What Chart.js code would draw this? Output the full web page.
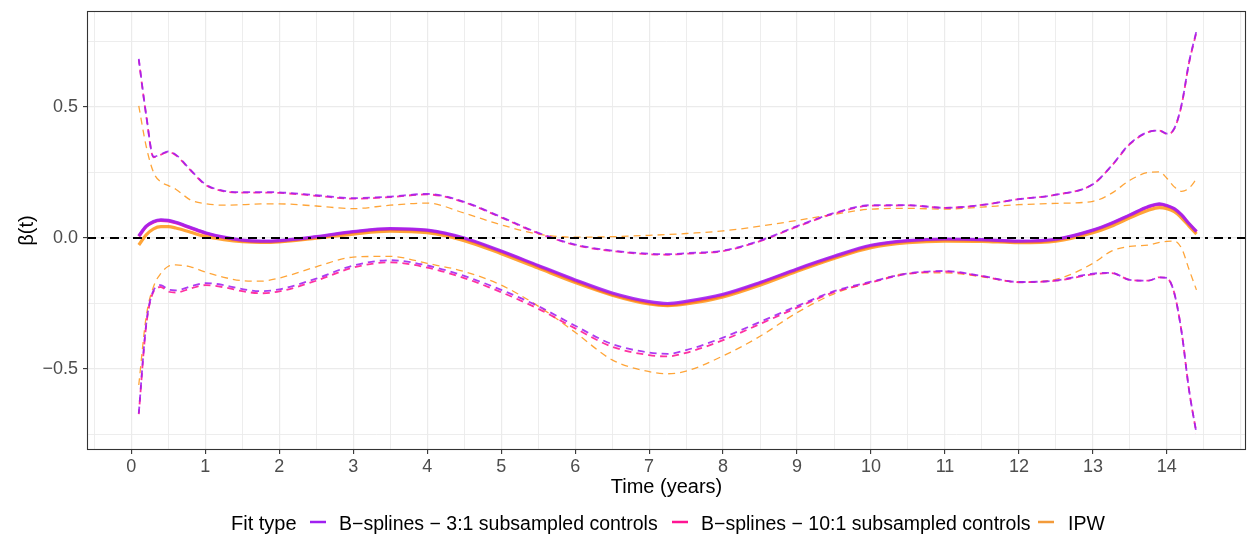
<!DOCTYPE html>
<html>
<head>
<meta charset="utf-8">
<script src="https://cdn.jsdelivr.net/npm/chart.js@4/dist/chart.umd.min.js"></script>
<style>
  html, body { margin: 0; padding: 0; background: #ffffff; }
  canvas { display: block; }
</style>
</head>
<body>
<canvas id="beta" width="1249" height="539"></canvas>
<script>
// Follow-up time (years) at which each curve is evaluated
const time = [0.1, 0.2, 0.3, 0.4, 0.5, 0.6, 0.8, 1.0, 1.25, 1.5, 1.75, 2.0, 2.5, 3.0, 3.5, 4.0,
  4.5, 5.0, 5.5, 6.0, 6.5, 7.0, 7.25, 7.5, 8.0, 8.5, 9.0, 9.5, 10.0, 10.5, 11.0, 11.5, 12.0,
  12.5, 13.0, 13.25, 13.5, 13.75, 13.9, 14.0, 14.1, 14.2, 14.3, 14.4];

// B-splines, 3:1 subsampled controls: estimate and pointwise bounds
const est3 = [0.008, 0.045, 0.063, 0.069, 0.067, 0.06, 0.04, 0.02, 0.003, -0.008, -0.012, -0.01, 0.005, 0.024, 0.036, 0.03,
  0.0, -0.05, -0.105, -0.16, -0.21, -0.243, -0.25, -0.242, -0.215, -0.17, -0.118, -0.07, -0.028, -0.01, -0.004, -0.006, -0.012,
  -0.005, 0.03, 0.056, 0.088, 0.12, 0.13, 0.124, 0.112, 0.088, 0.055, 0.025];
const hi3 = [0.683, 0.47, 0.31, 0.32, 0.33, 0.318, 0.26, 0.205, 0.18, 0.175, 0.175, 0.174, 0.163, 0.152, 0.158, 0.168,
  0.138, 0.08, 0.02, -0.025, -0.048, -0.06, -0.062, -0.058, -0.048, -0.01, 0.045, 0.095, 0.125, 0.125, 0.115, 0.126, 0.148,
  0.165, 0.205, 0.275, 0.36, 0.405, 0.41, 0.398, 0.418, 0.51, 0.67, 0.79];
const lo3 = [-0.669, -0.33, -0.2, -0.18, -0.197, -0.2, -0.185, -0.172, -0.18, -0.195, -0.203, -0.196, -0.155, -0.105, -0.085, -0.105,
  -0.145, -0.198, -0.26, -0.335, -0.405, -0.437, -0.442, -0.428, -0.38, -0.32, -0.26, -0.203, -0.167, -0.135, -0.126, -0.145, -0.168,
  -0.162, -0.136, -0.133, -0.16, -0.163, -0.15, -0.152, -0.21, -0.36, -0.58, -0.745];

// B-splines, 10:1 subsampled controls
const est10 = [0.006, 0.043, 0.061, 0.067, 0.065, 0.058, 0.038, 0.018, 0.001, -0.01, -0.014, -0.012, 0.003, 0.022, 0.034, 0.028,
  -0.003, -0.053, -0.108, -0.164, -0.215, -0.248, -0.255, -0.247, -0.219, -0.173, -0.121, -0.073, -0.031, -0.012, -0.006, -0.008, -0.014,
  -0.007, 0.028, 0.054, 0.086, 0.118, 0.128, 0.122, 0.11, 0.086, 0.053, 0.023];
const hi10 = [0.68, 0.468, 0.308, 0.318, 0.328, 0.316, 0.258, 0.203, 0.178, 0.173, 0.173, 0.172, 0.161, 0.15, 0.156, 0.166,
  0.136, 0.078, 0.018, -0.027, -0.05, -0.062, -0.064, -0.06, -0.05, -0.012, 0.043, 0.093, 0.123, 0.124, 0.115, 0.126, 0.148,
  0.165, 0.205, 0.274, 0.358, 0.404, 0.41, 0.397, 0.416, 0.508, 0.668, 0.785];
const lo10 = [-0.672, -0.335, -0.205, -0.187, -0.205, -0.208, -0.193, -0.18, -0.188, -0.203, -0.211, -0.204, -0.163, -0.113, -0.093, -0.113,
  -0.153, -0.207, -0.27, -0.345, -0.415, -0.447, -0.452, -0.438, -0.39, -0.328, -0.266, -0.207, -0.17, -0.137, -0.128, -0.146, -0.169,
  -0.163, -0.139, -0.134, -0.16, -0.163, -0.15, -0.153, -0.21, -0.36, -0.58, -0.745];

// Inverse probability weighting
const estIPW = [-0.027, 0.012, 0.035, 0.043, 0.043, 0.038, 0.022, 0.006, -0.006, -0.014, -0.017, -0.015, -0.001, 0.015, 0.026, 0.02,
  -0.01, -0.06, -0.115, -0.17, -0.218, -0.252, -0.258, -0.252, -0.225, -0.18, -0.127, -0.078, -0.037, -0.018, -0.012, -0.013, -0.018,
  -0.012, 0.02, 0.045, 0.077, 0.106, 0.116, 0.112, 0.1, 0.076, 0.045, 0.015];
const hiIPW = [0.504, 0.35, 0.25, 0.213, 0.2, 0.186, 0.145, 0.131, 0.125, 0.127, 0.13, 0.13, 0.122, 0.112, 0.125, 0.133,
  0.095, 0.05, 0.015, 0.003, 0.005, 0.01, 0.013, 0.017, 0.027, 0.045, 0.067, 0.09, 0.11, 0.113, 0.11, 0.118, 0.127,
  0.132, 0.14, 0.17, 0.22, 0.25, 0.252, 0.228, 0.195, 0.178, 0.19, 0.225];
const loIPW = [-0.561, -0.3, -0.185, -0.135, -0.108, -0.103, -0.11, -0.13, -0.15, -0.163, -0.165, -0.153, -0.11, -0.073, -0.07, -0.097,
  -0.128, -0.18, -0.26, -0.36, -0.465, -0.51, -0.518, -0.508, -0.45, -0.375, -0.285, -0.213, -0.17, -0.135, -0.133, -0.148, -0.168,
  -0.158, -0.097, -0.05, -0.032, -0.027, -0.017, -0.013, -0.012, -0.04, -0.12, -0.198];

// Axis labelling
const xTickValues = [0, 1, 2, 3, 4, 5, 6, 7, 8, 9, 10, 11, 12, 13, 14];
const yTickValues = [-0.5, 0, 0.5];
const yTickText = ['\u22120.5', '0.0', '0.5'];
const seriesLabels = ['B\u2212splines \u2212 3:1 subsampled controls', 'B\u2212splines \u2212 10:1 subsampled controls', 'IPW'];
const legendTitle = 'Fit type';
const xTitle = 'Time (years)';
const yTitle = '\u03B2(t)';

const X_MIN = -0.6, X_MAX = 15.07;
const Y_MIN = -0.809, Y_MAX = 0.866;

const PURPLE = 'rgba(160, 32, 240, 0.88)';
const PINK = 'rgba(255, 20, 147, 0.88)';
const ORANGE = 'rgba(255, 140, 0, 0.78)';
const keyColors = ['#A020F0', '#FF1493', '#F39B3A'];
const FONT = "'Liberation Sans', Arial, Helvetica, sans-serif";

function pts(vals) { return time.map((t, i) => ({ x: t, y: vals[i] })); }

function mainLine(vals, color, order) {
  return { data: pts(vals), borderColor: color, borderWidth: 3.2, order: order };
}
function band(vals, color, width, order, offset) {
  return { data: pts(vals), borderColor: color, borderWidth: width, borderDash: [7, 5],
           borderDashOffset: offset || 0, order: order };
}

const datasets = [
  { data: [{ x: X_MIN, y: 0 }, { x: X_MAX, y: 0 }], borderColor: '#000000', borderWidth: 2,
    borderDash: [9, 5, 3, 6], cubicInterpolationMode: 'default', tension: 0, order: 0 },
  mainLine(est3, PURPLE, 1),
  mainLine(estIPW, ORANGE, 2),
  mainLine(est10, PINK, 3),
  band(hi3, PURPLE, 1.8, 4),
  band(lo3, PURPLE, 1.8, 4),
  band(hi10, PINK, 1.8, 5, 2),
  band(lo10, PINK, 1.8, 5, 2),
  band(hiIPW, ORANGE, 1.3, 6),
  band(loIPW, ORANGE, 1.3, 6)
];

const isHalf = v => Math.abs(v * 2 - Math.round(v * 2)) < 1e-9;

// Panel border, axis titles and the horizontal legend
const chrome = {
  id: 'chrome',
  afterDraw(chart) {
    const { ctx, chartArea: a } = chart;
    ctx.save();
    ctx.strokeStyle = '#333333';
    ctx.lineWidth = 1.1;
    ctx.strokeRect(a.left + 0.5, a.top + 0.5, a.right - a.left - 1, a.bottom - a.top - 1);

    ctx.fillStyle = '#000000';
    ctx.font = '20px ' + FONT;
    ctx.textAlign = 'center';
    ctx.textBaseline = 'alphabetic';
    ctx.fillText(xTitle, (a.left + a.right) / 2, 493);

    ctx.save();
    ctx.translate(33, (a.top + a.bottom) / 2);
    ctx.rotate(-Math.PI / 2);
    ctx.fillText(yTitle, 0, 0);
    ctx.restore();

    // legend
    const baseY = 530;
    ctx.textAlign = 'left';
    ctx.font = '20px ' + FONT;
    ctx.fillText(legendTitle, 231, baseY);
    const keyX = [310, 672, 1038];
    const textX = [339, 701, 1068];
    ctx.font = '19.5px ' + FONT;
    seriesLabels.forEach((lab, i) => {
      ctx.strokeStyle = keyColors[i];
      ctx.lineWidth = 2.5;
      ctx.beginPath();
      ctx.moveTo(keyX[i], 522);
      ctx.lineTo(keyX[i] + 16, 522);
      ctx.stroke();
      ctx.fillStyle = '#000000';
      ctx.fillText(lab, textX[i], baseY);
    });
    ctx.restore();
  }
};

new Chart(document.getElementById('beta'), {
  type: 'line',
  data: { datasets },
  plugins: [chrome],
  options: {
    responsive: false,
    animation: false,
    devicePixelRatio: 1,
    layout: { padding: { top: 11, right: 3, left: 0, bottom: 0 } },
    plugins: { legend: { display: false }, tooltip: { enabled: false } },
    elements: {
      point: { radius: 0 },
      line: { cubicInterpolationMode: 'monotone', borderCapStyle: 'butt', borderJoinStyle: 'round', fill: false }
    },
    scales: {
      x: {
        type: 'linear', min: X_MIN, max: X_MAX,
        afterFit(s) { s.height = 89; s.paddingLeft = 0; s.paddingRight = 0; },
        border: { display: false },
        grid: {
          color: '#EBEBEB',
          lineWidth: ctx => (ctx.tick && Number.isInteger(ctx.tick.value)) ? 1.2 : 0.9,
          tickLength: 4,
          tickColor: ctx => (ctx.tick && xTickValues.includes(ctx.tick.value)) ? '#333333' : 'rgba(0,0,0,0)',
          tickWidth: 1.1
        },
        ticks: {
          stepSize: 0.5, includeBounds: false, autoSkip: false, maxRotation: 0, padding: 2,
          color: '#4D4D4D', font: { family: FONT, size: 18 },
          callback: v => xTickValues.includes(v) ? String(v) : ''
        }
      },
      y: {
        type: 'linear', min: Y_MIN, max: Y_MAX,
        afterFit(s) { s.width = 87; s.paddingTop = 0; s.paddingBottom = 0; },
        border: { display: false },
        grid: {
          color: '#EBEBEB',
          lineWidth: ctx => (ctx.tick && isHalf(ctx.tick.value)) ? 1.2 : 0.9,
          tickLength: 4,
          tickColor: ctx => {
            if (!ctx.tick) return 'rgba(0,0,0,0)';
            return yTickValues.some(t => Math.abs(t - ctx.tick.value) < 1e-9) ? '#333333' : 'rgba(0,0,0,0)';
          },
          tickWidth: 1.1
        },
        ticks: {
          stepSize: 0.25, includeBounds: false, autoSkip: false, padding: 5,
          color: '#4D4D4D', font: { family: FONT, size: 18 },
          callback: v => {
            const k = yTickValues.findIndex(t => Math.abs(t - v) < 1e-9);
            return k >= 0 ? yTickText[k] : '';
          }
        }
      }
    }
  }
});
</script>
</body>
</html>
